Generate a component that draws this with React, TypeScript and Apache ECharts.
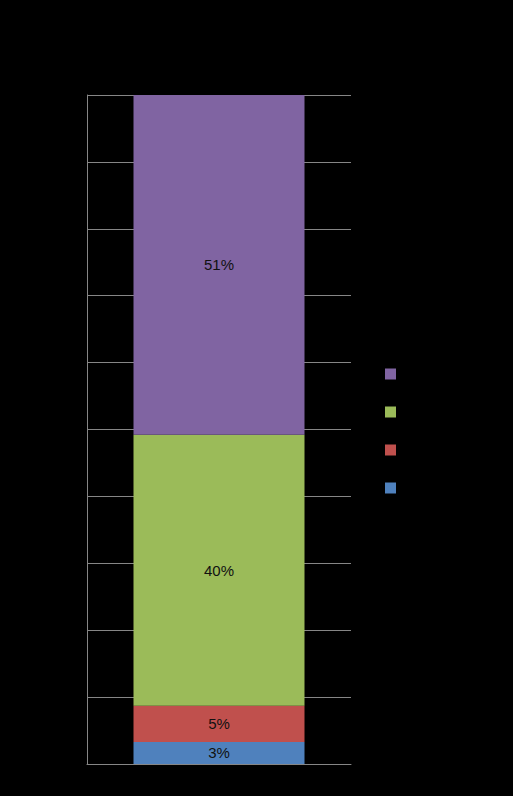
import { useEffect, useRef } from 'react';
import * as echarts from 'echarts';

// one stacked column, values in percent (bottom to top)
const categories = ['Total'];
const seriesNames = ['Series 1', 'Series 2', 'Series 3', 'Series 4'];
const seriesValues = [3.3, 5.4, 40.5, 50.8];
const seriesLabels = ['3%', '5%', '40%', '51%'];
const seriesColors = ['#4F81BD', '#C0504D', '#9BBB59', '#8064A2'];
const yTicks = [0, 10, 20, 30, 40, 50, 60, 70, 80, 90, 100];

const App = () => {
    const chartRef = useRef<HTMLDivElement>(null);

    useEffect(() => {
        if (!chartRef.current) return;
        const chart = echarts.init(chartRef.current, null, { renderer: 'svg' });

        const option: echarts.EChartsOption = {
            animation: false,
            backgroundColor: '#000000',
            grid: { left: 87, right: 162, top: 95, bottom: 32, containLabel: false },
            legend: {
                orient: 'vertical',
                left: 385,
                top: 368,
                padding: 0,
                itemWidth: 11,
                itemHeight: 11,
                itemGap: 26,
                icon: 'rect',
                // legend order follows the stacking, top first
                data: [...seriesNames].reverse(),
                textStyle: { color: '#000000', fontFamily: 'Liberation Sans', fontSize: 12 }
            },
            xAxis: {
                type: 'category',
                data: categories,
                axisLine: { show: true, lineStyle: { color: '#868686', width: 1 } },
                axisTick: { show: false },
                axisLabel: { show: false }
            },
            yAxis: {
                type: 'value',
                min: yTicks[0],
                max: yTicks[yTicks.length - 1],
                interval: yTicks[1] - yTicks[0],
                axisLine: { show: true, lineStyle: { color: '#868686', width: 1 } },
                axisTick: { show: false },
                axisLabel: { show: false },
                splitLine: { show: true, lineStyle: { color: '#868686', width: 1 } }
            },
            series: seriesNames.map((name, i) => ({
                name,
                type: 'bar',
                stack: 'total',
                barWidth: 171,
                data: [seriesValues[i]],
                itemStyle: { color: seriesColors[i] },
                label: {
                    show: true,
                    position: 'inside',
                    formatter: () => seriesLabels[i],
                    color: '#111111',
                    fontFamily: 'Liberation Sans',
                    fontSize: 15
                }
            }))
        };
        chart.setOption(option);

        return () => chart.dispose();
    }, []);

    return (
        <div
            ref={chartRef}
            style={{ position: 'fixed', left: 0, top: 0, width: '513px', height: '796px', background: '#000' }}
        />
    );
};

export default App;
